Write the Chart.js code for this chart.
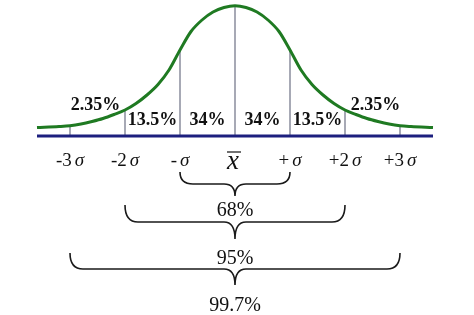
<!DOCTYPE html>
<html>
<head>
<meta charset="utf-8">
<script src="https://cdn.jsdelivr.net/npm/chart.js@4.4.1/dist/chart.umd.min.js"></script>
<style>
  html, body { margin: 0; padding: 0; background: #fff; }
  canvas { display: block; }
</style>
</head>
<body>
<canvas id="grafica" width="474" height="315"></canvas>
<script>
// --- datos (x en unidades de sigma, altura de la curva) ---
const sigmaPos = [-3.6, -3.2, -3.0, -2.8, -2.6, -2.4, -2.2, -2.0, -1.8, -1.6, -1.4, -1.2, -1.0, -0.8, -0.6, -0.4, -0.2, 0,
                  0.2, 0.4, 0.6, 0.8, 1.0, 1.2, 1.4, 1.6, 1.8, 2.0, 2.2, 2.4, 2.6, 2.8, 3.0, 3.2, 3.6];
const curveHeight = [8.5, 9.5, 10.3, 12, 14.5, 17.5, 21.5, 26, 32.5, 41, 51.5, 66, 86, 104.5, 116, 124, 128.5, 130.3,
                     128.5, 124, 116, 104.5, 86, 66, 51.5, 41, 32.5, 26, 21.5, 17.5, 14.5, 12, 10.3, 9.5, 8.5];

// lineas verticales en cada sigma
const dropPos = [-3, -2, -1, 0, 1, 2, 3];
const dropHeight = [10.3, 26, 86, 130.3, 86, 26, 10.3];

// porcentaje de cada franja
const regionPct = ["2.35%", "13.5%", "34%", "34%", "13.5%", "2.35%"];

// etiquetas del eje
const tickLabels = ["-3", "-2", "-", "x", "+", "+2", "+3"];

// llaves de cobertura
const coverageLabels = ["68%", "95%", "99.7%"];
const coverageSpan = [1, 2, 3];

const SERIF = '"Liberation Serif", "DejaVu Serif", serif';

function drawBrace(ctx, xL, xR, top, flat, tip) {
    const xM = (xL + xR) / 2;
    const r = 13;
    const r2 = 11;
    ctx.beginPath();
    ctx.moveTo(xL, top);
    ctx.quadraticCurveTo(xL, flat, xL + r, flat);
    ctx.lineTo(xM - r2, flat);
    ctx.quadraticCurveTo(xM, flat, xM, tip);
    ctx.quadraticCurveTo(xM, flat, xM + r2, flat);
    ctx.lineTo(xR - r, flat);
    ctx.quadraticCurveTo(xR, flat, xR, top);
    ctx.stroke();
}

const fondoPlugin = {
    id: "fondo",
    beforeDatasetsDraw(chart) {
        const ctx = chart.ctx;
        const xs = chart.scales.x, ys = chart.scales.y;
        ctx.save();
        // lineas verticales grises
        ctx.strokeStyle = "#8a8c9c";
        ctx.lineWidth = 1.5;
        dropPos.forEach((p, i) => {
            const x = xs.getPixelForValue(p);
            ctx.beginPath();
            ctx.moveTo(x, ys.getPixelForValue(0));
            ctx.lineTo(x, ys.getPixelForValue(dropHeight[i]));
            ctx.stroke();
        });
        // eje azul
        ctx.strokeStyle = "#1c1f7e";
        ctx.lineWidth = 3;
        ctx.beginPath();
        ctx.moveTo(xs.left, ys.getPixelForValue(0));
        ctx.lineTo(xs.right, ys.getPixelForValue(0));
        ctx.stroke();
        ctx.restore();
    },
    afterDatasetsDraw(chart) {
        const ctx = chart.ctx;
        const xs = chart.scales.x, ys = chart.scales.y;
        const base = ys.getPixelForValue(0);
        ctx.save();
        ctx.fillStyle = "#111";
        ctx.textAlign = "center";
        ctx.textBaseline = "alphabetic";

        // porcentajes de franja
        ctx.font = "bold 18px " + SERIF;
        regionPct.forEach((t, i) => {
            const mid = (dropPos[i] + dropPos[i + 1]) / 2;
            const exterior = (i === 0 || i === regionPct.length - 1);
            const x = xs.getPixelForValue(mid) + (exterior ? (i === 0 ? -2 : 3) : 0);
            const y = exterior ? base - 26 : base - 11;
            ctx.fillText(t, x, y);
        });

        // etiquetas del eje
        tickLabels.forEach((t, i) => {
            const x = xs.getPixelForValue(dropPos[i]);
            if (t === "x") {
                ctx.font = "italic 27px " + SERIF;
                ctx.textAlign = "center";
                ctx.fillText("x", x - 2, base + 33);
                ctx.strokeStyle = "#111";
                ctx.lineWidth = 1.2;
                ctx.beginPath();
                ctx.moveTo(x - 8, base + 16);
                ctx.lineTo(x + 6, base + 16);
                ctx.stroke();
                return;
            }
            ctx.font = "19px " + SERIF;
            const w1 = ctx.measureText(t).width;
            ctx.font = "italic 19px " + SERIF;
            const w2 = ctx.measureText("\u03c3").width;
            const gap = 3;
            const x0 = x - (w1 + gap + w2) / 2;
            ctx.textAlign = "left";
            ctx.font = "19px " + SERIF;
            ctx.fillText(t, x0, base + 30);
            ctx.font = "italic 19px " + SERIF;
            ctx.fillText("\u03c3", x0 + w1 + gap, base + 30);
            ctx.textAlign = "center";
        });

        // llaves
        ctx.strokeStyle = "#1a1a1a";
        ctx.lineWidth = 1.6;
        const braceTop = [36, 69, 117];
        const braceDepth = [12, 17, 16];
        const labelGap = [20, 25, 26];
        ctx.font = "20px " + SERIF;
        coverageSpan.forEach((s, i) => {
            const xL = xs.getPixelForValue(-s);
            const xR = xs.getPixelForValue(s);
            const top = base + braceTop[i];
            const flat = top + braceDepth[i];
            const tip = flat + braceDepth[i];
            drawBrace(ctx, xL, xR, top, flat, tip);
            ctx.fillText(coverageLabels[i], (xL + xR) / 2, tip + labelGap[i]);
        });
        ctx.restore();
    }
};

new Chart(document.getElementById("grafica"), {
    type: "line",
    data: {
        datasets: [{
            data: sigmaPos.map((x, i) => ({ x: x, y: curveHeight[i] })),
            borderColor: "#1f7a22",
            borderWidth: 3,
            pointRadius: 0,
            fill: false,
            cubicInterpolationMode: "monotone",
            clip: false
        }]
    },
    options: {
        responsive: false,
        animation: false,
        layout: { padding: { left: 37, right: 41, top: 0, bottom: 179 } },
        plugins: { legend: { display: false }, tooltip: { enabled: false } },
        scales: {
            x: { type: "linear", min: -3.6, max: 3.6, display: false },
            y: { min: 0, max: 136, display: false }
        }
    },
    plugins: [fondoPlugin]
});
</script>
</body>
</html>
